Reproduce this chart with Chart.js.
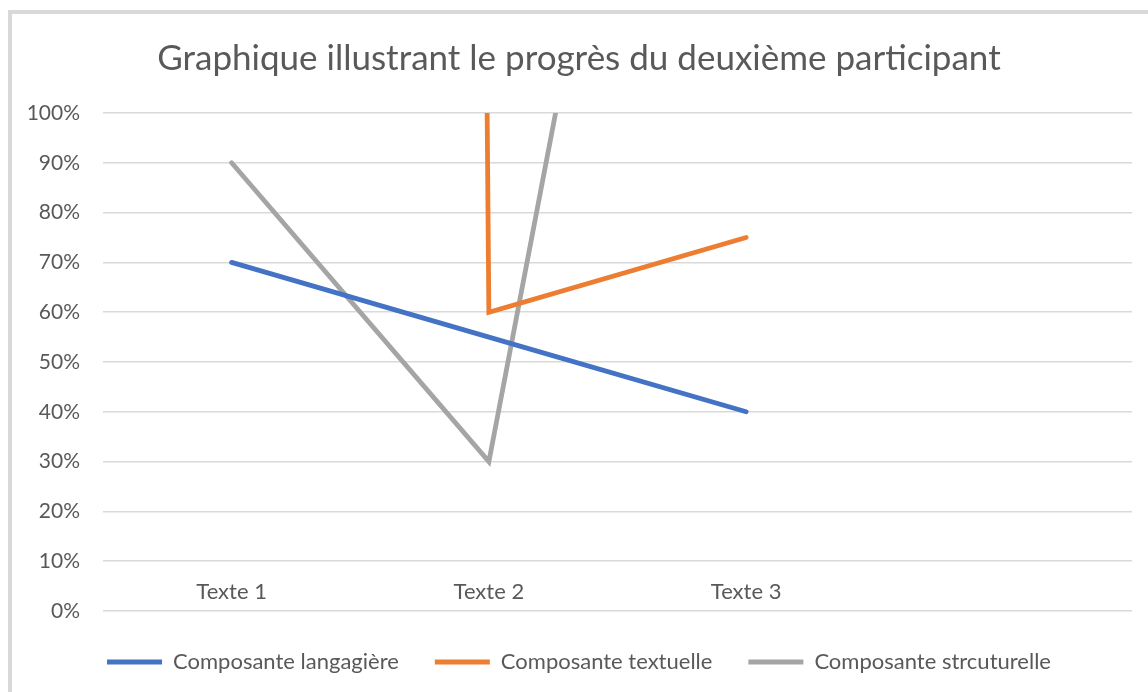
<!DOCTYPE html>
<html>
<head>
<meta charset="utf-8">
<script src="https://cdn.jsdelivr.net/npm/chart.js@4/dist/chart.umd.min.js"></script>
<style>
  html, body { margin: 0; padding: 0; background: #fff; overflow: hidden; }
  #frame { position: absolute; left: 8px; top: 10px; width: 1200px; height: 720px; border: 4px solid #d9d9d9; }
  #chart { position: absolute; left: 0; top: 0; }
</style>
</head>
<body>
<div id="frame"></div>
<canvas id="chart" width="1148" height="692"></canvas>
<script>
// données (en %)
const categories = ['Texte 1', 'Texte 2', 'Texte 3', ''];
const langagiere = [70, 55, 40];
const textuelle = [6000, 60, 75];   // première valeur hors échelle
const structurelle = [90, 30, 300]; // dernière valeur hors échelle
const yTicks = [0, 10, 20, 30, 40, 50, 60, 70, 80, 90, 100];

const FONT = 'Lato, "Open Sans", sans-serif';
const TEXT = '#595959';

function serie(label, data, color) {
  return {
    label,
    data,
    borderColor: color,
    backgroundColor: color,
    borderWidth: 4.8,
    borderCapStyle: 'round',
    borderJoinStyle: 'miter',
    pointRadius: 0,
    tension: 0,
    clip: 0,
  };
}

// étiquettes de catégorie dessinées juste au-dessus de la ligne 0 %
const categoryLabels = {
  id: 'categoryLabels',
  afterDraw(chart) {
    const x = chart.scales.x;
    const y = chart.scales.y;
    const ctx = chart.ctx;
    ctx.save();
    ctx.fillStyle = TEXT;
    ctx.font = '22px ' + FONT;
    ctx.textAlign = 'center';
    ctx.textBaseline = 'middle';
    categories.forEach((c, i) => {
      ctx.fillText(c, x.getPixelForTick(i), y.getPixelForValue(0) - 19);
    });
    ctx.restore();
  },
};

new Chart(document.getElementById('chart'), {
  type: 'line',
  data: {
    labels: categories,
    datasets: [
      serie('Composante langagière', langagiere, '#4472c4'),
      serie('Composante textuelle', textuelle, '#ed7d31'),
      serie('Composante strcuturelle', structurelle, '#a5a5a5'),
    ],
  },
  options: {
    responsive: false,
    animation: false,
    layout: { padding: { top: 38, left: 26, right: 16, bottom: 9 } },
    plugins: {
      title: {
        display: true,
        text: 'Graphique illustrant le progrès du deuxième participant',
        color: TEXT,
        font: { family: FONT, size: 35, weight: 'normal' },
        padding: { top: 0, bottom: 33 },
      },
      legend: {
        position: 'bottom',
        labels: {
          usePointStyle: true,
          pointStyle: 'line',
          pointStyleWidth: 55,
          color: TEXT,
          font: { family: FONT, size: 22 },
          padding: 36,
        },
      },
      tooltip: { enabled: false },
    },
    scales: {
      x: {
        offset: true,
        grid: { display: false, drawTicks: false },
        border: { display: false },
        ticks: { display: false },
        afterFit(scale) { scale.height = 4; },
      },
      y: {
        min: 0,
        max: 100,
        afterBuildTicks(scale) { scale.ticks = yTicks.map(v => ({ value: v })); },
        grid: { color: '#d9d9d9', lineWidth: 1.5, drawTicks: false },
        border: { display: false },
        ticks: { color: TEXT, font: { family: FONT, size: 21 }, padding: 23, callback: v => v + '%' },
        afterFit(scale) { scale.width = 77; },
      },
    },
  },
  plugins: [categoryLabels],
});
</script>
</body>
</html>
